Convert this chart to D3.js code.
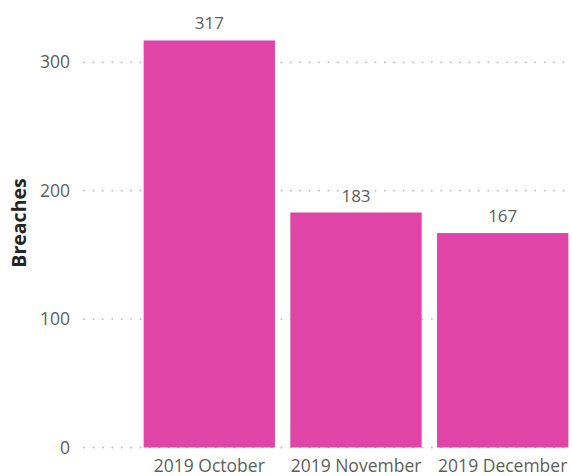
<!DOCTYPE html>
<html>
<head>
<meta charset="utf-8">
<script src="https://cdn.jsdelivr.net/npm/d3@7"></script>
<style>
  body { margin: 0; background: #fff; }
  svg { display: block; font-family: "Segoe UI", "Open Sans", sans-serif; }
</style>
</head>
<body>
<svg id="chart" width="572" height="476"></svg>
<script>
// Breaches by month - bar chart

const months = ["2019 October", "2019 November", "2019 December"];
const breaches = [317, 183, 167];
const yTicks = [0, 100, 200, 300];

window.addEventListener("DOMContentLoaded", () => {
  const svg = d3.select("#chart");
  const width = +svg.attr("width");

  const data = months.map((m, i) => ({ month: m, value: breaches[i] }));

  const x = d3.scaleBand()
    .domain(months)
    .range([136, 576])
    .paddingInner(0.105)
    .paddingOuter(0.052);

  const y = d3.scaleLinear()
    .domain([0, 300])
    .range([447.5, 62.3]);

  // gridlines (dotted)
  svg.append("g")
    .selectAll("line")
    .data(yTicks)
    .enter()
    .append("line")
    .attr("x1", 84)
    .attr("x2", width)
    .attr("y1", d => y(d))
    .attr("y2", d => y(d))
    .attr("stroke", "#bdbdbd")
    .attr("stroke-width", 1.8)
    .attr("stroke-linecap", "round")
    .attr("stroke-dasharray", "0.1,9.3");

  // y tick labels
  svg.append("g")
    .selectAll("text")
    .data(yTicks)
    .enter()
    .append("text")
    .attr("x", 70)
    .attr("y", d => y(d))
    .attr("dy", "0.35em")
    .attr("text-anchor", "end")
    .attr("font-size", "17.5px")
    .attr("fill", "#605e5c")
    .text(d => d);

  // y axis title
  svg.append("text")
    .attr("transform", "translate(26,223) rotate(-90)")
    .attr("text-anchor", "middle")
    .attr("font-size", "19.5px")
    .attr("font-weight", "bold")
    .attr("fill", "#252423")
    .text("Breaches");

  // bars
  svg.selectAll(".bar")
    .data(data)
    .enter()
    .append("rect")
    .attr("class", "bar")
    .attr("x", d => x(d.month))
    .attr("y", d => y(d.value))
    .attr("width", x.bandwidth())
    .attr("height", d => y(0) - y(d.value))
    .attr("fill", "#e044a7");

  // value labels
  svg.selectAll(".val")
    .data(data)
    .enter()
    .append("text")
    .attr("class", "val")
    .attr("x", d => x(d.month) + x.bandwidth() / 2)
    .attr("y", d => y(d.value) - 11)
    .attr("text-anchor", "middle")
    .attr("font-size", "17px")
    .attr("fill", "#605e5c")
    .text(d => d.value);

  // x labels
  svg.selectAll(".xlab")
    .data(months)
    .enter()
    .append("text")
    .attr("class", "xlab")
    .attr("x", d => x(d) + x.bandwidth() / 2)
    .attr("y", 472)
    .attr("text-anchor", "middle")
    .attr("font-size", "17.5px")
    .attr("fill", "#605e5c")
    .text(d => d);
});
</script>
</body>
</html>
